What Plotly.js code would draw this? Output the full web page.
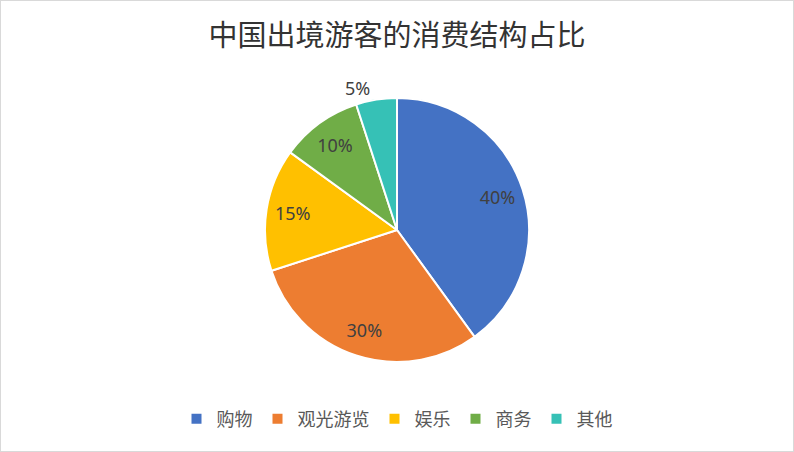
<!DOCTYPE html>
<html><head><meta charset="utf-8">
<script src="https://cdn.plot.ly/plotly-3.0.1.min.js"></script>
<style>
html,body{margin:0;padding:0;background:#fff;}
#chart{width:794px;height:452px;box-sizing:border-box;border:1px solid #d9d9d9;}
</style></head>
<body><div id="chart"></div>
<script>
const categories = ['购物','观光游览','娱乐','商务','其他'];
const values = [40, 30, 15, 10, 5];
const colors = ['#4472C4','#ED7D31','#FFC000','#70AD47','#36C1B6'];
const positions = ['inside','inside','inside','inside','outside'];
const titleText = '中国出境游客的消费结构占比';

const W = 792, H = 450, mt = 97, mb = 89;
const HOLE = 0.6;

const lblFont = {family: 'Noto Sans, Noto Sans CJK SC, sans-serif', size: 18, color: '#404040'};

// Filled pie (slices, borders, legend)
const slices = {
  type: 'pie',
  labels: categories,
  values: values,
  sort: false,
  direction: 'clockwise',
  rotation: 0,
  marker: {colors: colors, line: {color: '#ffffff', width: 2}},
  textinfo: 'none',
  hoverinfo: 'label+percent'
};

// Same data as a transparent ring, used only to place the percentage labels
const labelsRing = {
  type: 'pie',
  labels: categories,
  values: values,
  sort: false,
  direction: 'clockwise',
  rotation: 0,
  hole: HOLE,
  showlegend: false,
  marker: {colors: categories.map(() => 'rgba(0,0,0,0)'), line: {width: 0}},
  texttemplate: '%{value}%',
  textposition: positions,
  insidetextorientation: 'horizontal',
  textfont: lblFont,
  insidetextfont: lblFont,
  outsidetextfont: lblFont,
  hoverinfo: 'skip'
};

const layout = {
  width: W, height: H,
  margin: {l: 0, r: 0, t: mt, b: mb},
  paper_bgcolor: '#ffffff',
  title: {text: titleText, x: 0.5, xanchor: 'center', y: 0.923, yanchor: 'middle',
          font: {family: 'Noto Sans CJK SC, sans-serif', size: 29, color: '#333333'}},
  showlegend: true,
  legend: {orientation: 'h', x: 0.5, xanchor: 'center', y: -0.216, yanchor: 'middle',
           font: {family: 'Noto Sans CJK SC, sans-serif', size: 18, color: '#595959'},
           itemwidth: 30, traceorder: 'normal'}
};

Plotly.newPlot('chart', [slices, labelsRing], layout, {displayModeBar: false, staticPlot: true});
</script></body></html>
